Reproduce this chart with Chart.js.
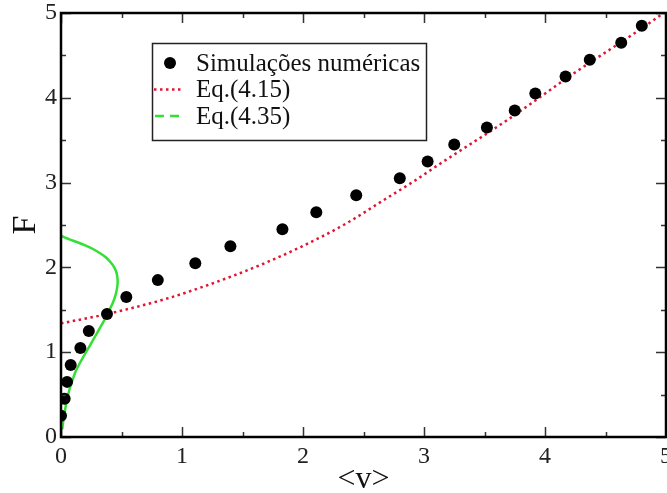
<!DOCTYPE html>
<html>
<head>
<meta charset="utf-8">
<title>F versus &lt;v&gt;</title>
<script src="https://cdn.jsdelivr.net/npm/chart.js@4/dist/chart.umd.min.js"></script>
<style>
  html, body { margin: 0; padding: 0; background: #ffffff; }
  #wrap { width: 667px; height: 493px; position: relative; }
</style>
</head>
<body>
<div id="wrap"><canvas id="chart" width="667" height="493"></canvas></div>
<script>
// Numerical simulations: mean velocity <v> and force F
const simV = [0.00, 0.03, 0.05, 0.08, 0.16, 0.23, 0.38, 0.54, 0.80, 1.11, 1.40, 1.83, 2.11, 2.44, 2.80, 3.03, 3.25, 3.52, 3.75, 3.92, 4.17, 4.37, 4.63, 4.80];
const simF = [0.25, 0.45, 0.65, 0.85, 1.05, 1.25, 1.45, 1.65, 1.85, 2.05, 2.25, 2.45, 2.65, 2.85, 3.05, 3.25, 3.45, 3.65, 3.85, 4.05, 4.25, 4.45, 4.65, 4.85];

// Eq.(4.15) curve
const eq415V = [0.00, 0.38, 0.87, 1.15, 1.42, 1.70, 1.98, 2.36, 2.64, 2.91, 3.13, 3.68, 4.23, 4.79, 5.00];
const eq415F = [1.34, 1.45, 1.63, 1.76, 1.90, 2.06, 2.24, 2.52, 2.77, 3.01, 3.22, 3.73, 4.28, 4.81, 5.02];

// Eq.(4.35) curve
const eq435V = [0.010, 0.020, 0.035, 0.050, 0.070, 0.095, 0.120, 0.155, 0.195, 0.235, 0.275, 0.315, 0.355, 0.390, 0.425, 0.450, 0.465, 0.468, 0.460, 0.440, 0.410, 0.370, 0.320, 0.260, 0.200, 0.130, 0.070, 0.020, 0.000];
const eq435F = [0.09, 0.20, 0.33, 0.45, 0.56, 0.67, 0.77, 0.87, 0.97, 1.07, 1.17, 1.27, 1.37, 1.47, 1.57, 1.67, 1.77, 1.85, 1.93, 2.00, 2.06, 2.12, 2.17, 2.22, 2.26, 2.30, 2.33, 2.36, 2.37];

// Axis ticks
const xTicks = [0, 1, 2, 3, 4, 5];
const yTicks = [0, 1, 2, 3, 4, 5];

const seriesNames = ['Simulações numéricas', 'Eq.(4.15)', 'Eq.(4.35)'];
const xTitle = '<v>';
const yTitle = 'F';

const RED = 'rgb(222, 22, 52)';
const GREEN = 'rgb(52, 224, 52)';
const SERIF = '"Liberation Serif", "DejaVu Serif", serif';

const zip = (xs, ys) => xs.map((x, i) => ({ x: x, y: ys[i] }));

// Closed frame with inward major and minor ticks on all four sides
const framePlugin = {
  id: 'frame',
  afterDatasetsDraw(chart) {
    const { ctx, chartArea: a, scales } = chart;
    const sx = scales.x, sy = scales.y;
    ctx.save();
    ctx.strokeStyle = '#333';
    ctx.lineWidth = 1.5;
    const major = 10, minor = 5;
    ctx.beginPath();
    xTicks.forEach((v, i) => {
      const px = Math.round(sx.getPixelForValue(v)) + 0.5;
      ctx.moveTo(px, a.bottom); ctx.lineTo(px, a.bottom - major);
      ctx.moveTo(px, a.top); ctx.lineTo(px, a.top + major);
      if (i < xTicks.length - 1) {
        const mx = Math.round(sx.getPixelForValue((v + xTicks[i + 1]) / 2)) + 0.5;
        ctx.moveTo(mx, a.bottom); ctx.lineTo(mx, a.bottom - minor);
        ctx.moveTo(mx, a.top); ctx.lineTo(mx, a.top + minor);
      }
    });
    yTicks.forEach((v, i) => {
      const py = Math.round(sy.getPixelForValue(v)) + 0.5;
      ctx.moveTo(a.left, py); ctx.lineTo(a.left + major, py);
      ctx.moveTo(a.right, py); ctx.lineTo(a.right - major, py);
      if (i < yTicks.length - 1) {
        const my = Math.round(sy.getPixelForValue((v + yTicks[i + 1]) / 2)) + 0.5;
        ctx.moveTo(a.left, my); ctx.lineTo(a.left + minor, my);
        ctx.moveTo(a.right, my); ctx.lineTo(a.right - minor, my);
      }
    });
    ctx.stroke();
    ctx.strokeStyle = '#000';
    ctx.lineWidth = 2.5;
    ctx.strokeRect(a.left, a.top, a.right - a.left, a.bottom - a.top);
    ctx.restore();
  }
};

// Boxed legend placed inside the plotting area
const boxLegendPlugin = {
  id: 'boxLegend',
  afterDatasetsDraw(chart) {
    const { ctx } = chart;
    const left = 152, top = 43, width = 274, height = 97;
    const rows = [63, 89.5, 116];
    ctx.save();
    ctx.fillStyle = '#fff';
    ctx.fillRect(left, top, width, height);
    ctx.strokeStyle = '#222';
    ctx.lineWidth = 1.5;
    ctx.strokeRect(left + 0.5, top + 0.5, width, height);

    // symbol: filled dot
    ctx.fillStyle = '#000';
    ctx.beginPath();
    ctx.arc(170, rows[0], 6, 0, Math.PI * 2);
    ctx.fill();

    // symbol: dotted red
    ctx.strokeStyle = RED;
    ctx.lineWidth = 2.5;
    ctx.setLineDash([2.5, 3.5]);
    ctx.beginPath();
    ctx.moveTo(154, rows[1]); ctx.lineTo(182, rows[1]);
    ctx.stroke();

    // symbol: dashed green
    ctx.strokeStyle = GREEN;
    ctx.setLineDash([9, 6]);
    ctx.beginPath();
    ctx.moveTo(155, rows[2]); ctx.lineTo(184, rows[2]);
    ctx.stroke();
    ctx.setLineDash([]);

    ctx.fillStyle = '#111';
    ctx.font = '25px ' + SERIF;
    ctx.textBaseline = 'middle';
    ctx.textAlign = 'left';
    seriesNames.forEach((name, i) => ctx.fillText(name, 196, rows[i] + 1));
    ctx.restore();
  }
};

new Chart(document.getElementById('chart'), {
  type: 'scatter',
  data: {
    datasets: [
      {
        label: seriesNames[1],
        data: zip(eq415V, eq415F),
        showLine: true,
        borderColor: RED,
        borderWidth: 2.5,
        borderDash: [2.5, 3.5],
        pointRadius: 0,
        cubicInterpolationMode: 'monotone',
        fill: false,
        order: 2
      },
      {
        label: seriesNames[2],
        data: zip(eq435V, eq435F),
        showLine: true,
        borderColor: GREEN,
        borderWidth: 2.5,
        pointRadius: 0,
        tension: 0.3,
        fill: false,
        order: 1
      },
      {
        label: seriesNames[0],
        data: zip(simV, simF),
        showLine: false,
        pointRadius: 6,
        pointHoverRadius: 6,
        pointBackgroundColor: '#000',
        pointBorderColor: '#000',
        pointBorderWidth: 0,
        order: 0
      }
    ]
  },
  options: {
    responsive: false,
    animation: false,
    events: [],
    layout: { autoPadding: false, padding: { top: 13, right: 1, left: 0, bottom: 0 } },
    plugins: {
      legend: { display: false },
      tooltip: { enabled: false }
    },
    scales: {
      x: {
        type: 'linear',
        min: 0,
        max: 5,
        afterBuildTicks(scale) { scale.ticks = xTicks.map(v => ({ value: v })); },
        afterFit(scale) { scale.height = 56; scale.paddingLeft = 0; scale.paddingRight = 0; },
        grid: { display: false, drawTicks: false },
        border: { display: false },
        ticks: {
          color: '#222',
          font: { family: SERIF, size: 24 },
          padding: 5,
          maxRotation: 0,
          callback: v => String(v)
        },
        title: {
          display: true,
          text: xTitle,
          color: '#111',
          font: { family: SERIF, size: 32, lineHeight: 0.85 },
          padding: 0
        }
      },
      y: {
        type: 'linear',
        min: 0,
        max: 5,
        afterBuildTicks(scale) { scale.ticks = yTicks.map(v => ({ value: v })); },
        afterFit(scale) { scale.width = 61; scale.paddingTop = 0; scale.paddingBottom = 0; },
        grid: { display: false, drawTicks: false },
        border: { display: false },
        ticks: {
          color: '#222',
          font: { family: SERIF, size: 24 },
          padding: 4,
          callback: v => String(v)
        },
        title: {
          display: true,
          text: yTitle,
          color: '#111',
          font: { family: SERIF, size: 34, lineHeight: 1.55 },
          padding: 0
        }
      }
    }
  },
  plugins: [framePlugin, boxLegendPlugin]
});
</script>
</body>
</html>
